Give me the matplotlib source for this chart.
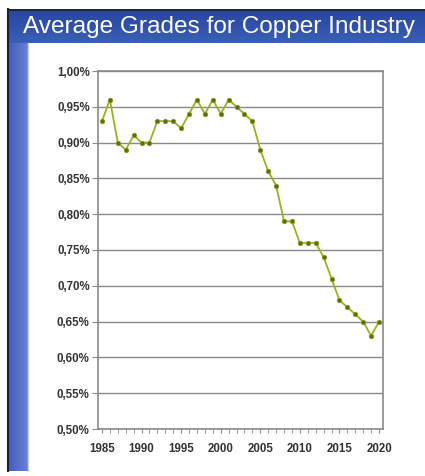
import numpy as np
import matplotlib
matplotlib.use('Agg')
from matplotlib import pyplot as plt
from matplotlib.ticker import FuncFormatter, MultipleLocator

plt.rcParams['font.family'] = ['Liberation Sans', 'DejaVu Sans']

# average copper ore grade per year (%)
years = list(range(1985, 2021))
grades = [0.93, 0.96, 0.90, 0.89, 0.91, 0.90, 0.90, 0.93, 0.93, 0.93,
          0.92, 0.94, 0.96, 0.94, 0.96, 0.94, 0.96, 0.95, 0.94, 0.93,
          0.89, 0.86, 0.84, 0.79, 0.79, 0.76, 0.76, 0.76, 0.74, 0.71,
          0.68, 0.67, 0.66, 0.65, 0.63, 0.65]
yearLabels = [1985, 1990, 1995, 2000, 2005, 2010, 2015, 2020]
title = 'Average Grades for Copper Industry'

W, H = 425, 476
fig = plt.figure(figsize=(W / 100, H / 100), dpi=100)

# slide background drawn in pixel coordinates
bg = fig.add_axes([0, 0, 1, 1])
bg.set_xlim(0, W)
bg.set_ylim(H, 0)
bg.axis('off')

# title bar, vertical gradient
barTop = np.linspace(0, 1, 64).reshape(-1, 1)
bar = np.dstack([0.15 + 0.08 * barTop, 0.27 + 0.10 * barTop, 0.62 + 0.10 * barTop])
bg.imshow(bar, extent=(8, W, 43, 9), aspect='auto', zorder=1)
bg.plot([8, W], [9.5, 9.5], color='#1a1f3a', lw=1.2, zorder=2)

# left strip, horizontal gradient
strip = np.linspace(0, 1, 64).reshape(1, -1)
side = np.dstack([0.26 + 0.16 * strip, 0.35 + 0.16 * strip, 0.74 + 0.10 * strip])
bg.imshow(side, extent=(8, 28, 471, 43), aspect='auto', zorder=1)
bg.plot([8, 8], [9, 471], color='#1a1f3a', lw=1.5, zorder=2)
bg.plot([28.5, 28.5], [43, 471], color='#c8d0ee', lw=1, zorder=2)

bg.text(219, 27.5, title, color='white', fontsize=17.6, ha='center', va='center', zorder=3)

# chart
ax = fig.add_axes([98 / W, 1 - 429 / H, (383 - 98) / W, (429 - 71) / H])
ax.plot(years, grades, color='#9fb01e', lw=1.3, marker='o', markersize=3.2,
        markerfacecolor='#5d6b12', markeredgecolor='#8c9c1a', markeredgewidth=0.6, zorder=3)

ax.set_xlim(1984.5, 2020.5)
ax.set_ylim(0.50, 1.00)
ax.yaxis.set_major_locator(MultipleLocator(0.05))
ax.yaxis.set_major_formatter(FuncFormatter(lambda v, p: ('%.2f%%' % v).replace('.', ',')))
ax.set_xticks(yearLabels)
ax.set_xticks(years, minor=True)
ax.grid(axis='y', color='#8a8a8a', lw=1)
ax.set_axisbelow(True)
for s in ax.spines.values():
    s.set_color('#8a8a8a')
    s.set_linewidth(1.2)
ax.tick_params(axis='y', length=4, color='#8a8a8a', labelsize=8.3, labelcolor='#333333', pad=2)
ax.tick_params(axis='x', which='both', length=3, color='#8a8a8a', labelsize=8.3,
               labelcolor='#333333', pad=7)
for lab in ax.get_xticklabels() + ax.get_yticklabels():
    lab.set_fontweight('bold')

fig.savefig('out.png', dpi=100)
